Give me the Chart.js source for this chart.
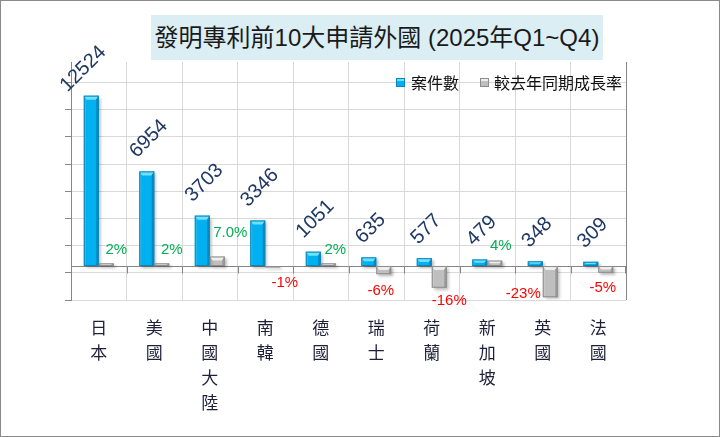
<!DOCTYPE html>
<html>
<head>
<meta charset="utf-8">
<script src="https://cdn.jsdelivr.net/npm/chart.js@4/dist/chart.umd.min.js"></script>
<style>
  html, body { margin: 0; padding: 0; background: #fff; overflow: hidden; }
  #wrap { position: relative; width: 721px; height: 437px; }
  #frame { position: absolute; left: 0; top: 0; width: 720px; height: 437px; box-sizing: border-box;
           border: 1px solid #8a8a8a; pointer-events: none; }
  #title { position: absolute; left: 151px; top: 15px; width: 452px; height: 45px; background: #DAEEF3;
           font: 24px "Liberation Sans", "Noto Sans CJK TC", sans-serif; color: #1a1a1a;
           line-height: 45px; text-align: center; white-space: nowrap; z-index: 2; }
  canvas { position: absolute; left: 0; top: 0; }
</style>
</head>
<body>
<div id="wrap">
  <canvas id="chart" width="721" height="437"></canvas>
  <div id="title">發明專利前10大申請外國 (2025年Q1~Q4)</div>
  <div id="frame"></div>
</div>
<script>
// categories (stacked vertically, one character per line)
const countries = ['日本', '美國', '中國大陸', '南韓', '德國', '瑞士', '荷蘭', '新加坡', '英國', '法國'];
// 案件數
const caseCounts = [12524, 6954, 3703, 3346, 1051, 635, 577, 479, 348, 309];
// 較去年同期成長率 (%)
const growthRates = [2, 2, 7.0, -1, 2, -6, -16, 4, -23, -5];
const growthText = ['2%', '2%', '7.0%', '-1%', '2%', '-6%', '-16%', '4%', '-23%', '-5%'];
// primary axis gridlines
const countGridValues = [-2500, -500, 1500, 3500, 5500, 7500, 9500, 11500, 13500];

const seriesNames = ['案件數', '較去年同期成長率'];
const BLUE = '#00B0F0', GRAY = '#BFBFBF';

// hand placed growth labels in the original, nudged in px
const growthNudge = [[10, 0], [10, 0], [13, -11], [12, 0], [7, 0], [-3, 2], [10, -2], [6, -2], [-27, -18], [-3, 0]];

const cjk = '"Noto Sans CJK TC", sans-serif';

const barDeco = {
    id: 'barDeco',
    beforeDatasetsDraw(chart) {
        const { ctx, chartArea, scales } = chart;
        // zero line of the category axis + tick marks between categories
        const y0 = Math.round(scales.y1.getPixelForValue(0)) + 0.5;
        const x = scales.x;
        ctx.save();
        ctx.strokeStyle = '#868686';
        ctx.lineWidth = 1;
        ctx.beginPath();
        ctx.moveTo(chartArea.left, y0);
        ctx.lineTo(chartArea.right, y0);
        for (let i = 1; i <= countries.length; i++) {
            const bx = i < countries.length
                ? Math.round((x.getPixelForValue(i - 1) + x.getPixelForValue(i)) / 2) + 0.5
                : chartArea.right - 0.5;
            ctx.moveTo(bx, y0);
            ctx.lineTo(bx, y0 + 7);
        }
        ctx.stroke();
        ctx.restore();
        // shadow for bars
        ctx.save();
        ctx.shadowColor = 'rgba(0,0,0,0.28)';
        ctx.shadowBlur = 3;
        ctx.shadowOffsetX = 2;
        ctx.shadowOffsetY = 2;
    },
    afterDatasetsDraw(chart) {
        const { ctx } = chart;
        ctx.restore();
        // bevel look on each bar
        chart.getSortedVisibleDatasetMetas().forEach(meta => {
            const isBlue = meta.index === 0;
            meta.data.forEach(bar => {
                const { x, y, base, width } = bar.getProps(['x', 'y', 'base', 'width'], true);
                const l = x - width / 2, r = x + width / 2;
                const t = Math.min(y, base), b = Math.max(y, base);
                const h = b - t;
                if (h < 1) return;
                ctx.save();
                ctx.fillStyle = isBlue ? 'rgba(0,70,110,0.35)' : 'rgba(0,0,0,0.18)';
                ctx.fillRect(r - 2.5, t, 2.5, h);
                ctx.fillStyle = 'rgba(255,255,255,0.18)';
                ctx.fillRect(l, t, 2, h);
                const cap = Math.min(4, h / 2);
                ctx.fillStyle = isBlue ? '#6FE0FF' : '#EEEEEE';
                ctx.beginPath();
                ctx.moveTo(l, t);
                ctx.lineTo(r, t);
                ctx.lineTo(r - 3, t + cap);
                ctx.lineTo(l + 3, t + cap);
                ctx.closePath();
                ctx.fill();
                ctx.strokeStyle = isBlue ? '#0A86B8' : '#8C8C8C';
                ctx.lineWidth = 1;
                ctx.strokeRect(l + 0.5, t + 0.5, width - 1, Math.max(h - 1, 0.5));
                ctx.restore();
            });
        });
    },
    afterDraw(chart) {
        const { ctx, chartArea } = chart;
        // value labels on the count bars, rotated 45deg
        const m0 = chart.getDatasetMeta(0);
        ctx.save();
        ctx.font = '20px "Liberation Sans", Arial, sans-serif';
        ctx.fillStyle = '#1F3864';
        ctx.textAlign = 'center';
        ctx.textBaseline = 'middle';
        m0.data.forEach((bar, i) => {
            const txt = String(caseCounts[i]);
            const w = ctx.measureText(txt).width;
            const off = 12 + 0.7071 * (w + 14) / 2;
            let cx = bar.x + 2, cy = bar.y - off;
            // keep the label inside: slide it down along its own direction
            const minY = chartArea.top + 7;
            if (cy < minY) { cx -= (minY - cy); cy = minY; }
            ctx.save();
            ctx.translate(cx, cy);
            ctx.rotate(-Math.PI / 4);
            ctx.fillText(txt, 0, 0);
            ctx.restore();
        });
        // growth labels
        const m1 = chart.getDatasetMeta(1);
        ctx.font = '15px "Liberation Sans", Arial, sans-serif';
        m1.data.forEach((bar, i) => {
            const v = growthRates[i];
            const top = Math.min(bar.y, bar.base), bot = Math.max(bar.y, bar.base);
            const [dx, dy] = growthNudge[i];
            const cy = v >= 0 ? top - 13 : bot + 15;
            ctx.fillStyle = v >= 0 ? '#00B050' : '#FF0000';
            ctx.fillText(growthText[i], bar.x + dx, cy + dy);
        });
        // legend inside the plot area, top right
        ctx.font = '16px ' + cjk;
        ctx.textAlign = 'left';
        const w1 = ctx.measureText(seriesNames[0]).width;
        const w2 = ctx.measureText(seriesNames[1]).width;
        const total = 9 + 6 + w1 + 21 + 9 + 5 + w2;
        let lx = chartArea.right - 4 - total;
        const ly = chartArea.top + 21;
        [[BLUE, '#0A86B8', '#6FE0FF', seriesNames[0], 6], [GRAY, '#8C8C8C', '#EEEEEE', seriesNames[1], 5]].forEach(([fill, edge, cap, name, gap], k) => {
            ctx.fillStyle = fill;
            ctx.fillRect(lx, ly - 5, 9, 9);
            ctx.fillStyle = cap;
            ctx.fillRect(lx + 1, ly - 4, 7, 2);
            ctx.strokeStyle = edge;
            ctx.strokeRect(lx + 0.5, ly - 4.5, 8, 8);
            ctx.fillStyle = '#111';
            ctx.textBaseline = 'middle';
            ctx.fillText(name, lx + 9 + gap, ly);
            lx += 9 + gap + (k === 0 ? w1 + 21 : 0);
        });
        ctx.restore();
    }
};

new Chart(document.getElementById('chart'), {
    type: 'bar',
    data: {
        labels: countries.map(c => c.split('')),
        datasets: [
            {
                label: seriesNames[0],
                data: caseCounts,
                yAxisID: 'y',
                backgroundColor: BLUE,
                categoryPercentage: 0.54,
                barPercentage: 1.0
            },
            {
                label: seriesNames[1],
                data: growthRates,
                yAxisID: 'y1',
                backgroundColor: GRAY,
                categoryPercentage: 0.54,
                barPercentage: 1.0
            }
        ]
    },
    options: {
        responsive: false,
        animation: false,
        layout: { padding: { top: 62, right: 95, left: 0, bottom: 0 } },
        plugins: {
            legend: { display: false },
            tooltip: { enabled: false }
        },
        scales: {
            x: {
                grid: {
                    color: ctx => ctx.tick ? '#D9D9D9' : '#868686',
                    drawTicks: false,
                    offset: true
                },
                border: { display: false },
                ticks: {
                    padding: 15,
                    color: '#1F1F3A',
                    font: { family: '"Noto Sans CJK TC"', size: 17, lineHeight: 1.47 },
                    maxRotation: 0,
                    autoSkip: false
                },
                afterFit: s => { s.height = 137; }
            },
            y: {
                position: 'left',
                min: -2500,
                max: 15000,
                afterBuildTicks: s => { s.ticks = countGridValues.map(v => ({ value: v })); },
                ticks: { display: false },
                grid: { color: '#D9D9D9', tickColor: '#868686', tickLength: 6, drawTicks: true },
                border: { display: true, color: '#868686' },
                afterFit: s => { s.width = 71; }
            },
            y1: {
                position: 'right',
                display: false,
                min: -25,
                max: 150
            }
        }
    },
    plugins: [barDeco]
});
</script>
</body>
</html>
